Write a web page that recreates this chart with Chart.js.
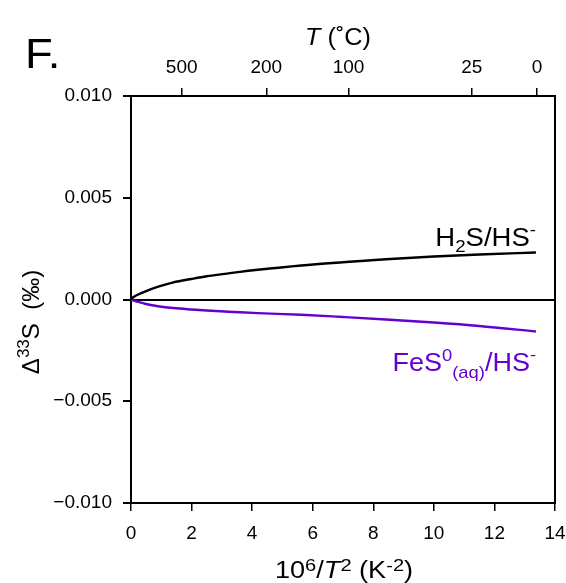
<!DOCTYPE html>
<html>
<head>
<meta charset="utf-8">
<script src="https://cdn.jsdelivr.net/npm/chart.js@4/dist/chart.umd.min.js"></script>
<style>
  html, body { margin: 0; padding: 0; background: #fff; }
  canvas { display: block; }
</style>
</head>
<body>
<canvas id="chart" width="566" height="583"></canvas>
<script>
// 10^6/T^2 (K^-2) sample positions shared by both curves
const xValues = [0, 0.05, 0.1, 0.2, 0.46, 0.9, 1.4, 2.0, 2.5, 3.1, 3.6, 4.19, 5.62, 7.0, 8.42, 10.0, 11.5, 13.37];
// Δ33S (‰) for H2S/HS-
const h2sValues = [0, 0.00008, 0.00014, 0.00022, 0.00039, 0.00063, 0.00084, 0.00101, 0.00114, 0.00126, 0.00136, 0.00146, 0.00167, 0.00183, 0.00198, 0.00211, 0.00221, 0.00231];
// Δ33S (‰) for FeS0(aq)/HS-
const fesValues = [0, -0.00003, -0.00006, -0.0001, -0.00021, -0.00033, -0.00042, -0.00049, -0.00054, -0.00059, -0.00063, -0.00067, -0.00075, -0.00086, -0.00098, -0.00113, -0.0013, -0.00157];

const yTickValues = [-0.010, -0.005, 0, 0.005, 0.010];
const xTickValues = [0, 2, 4, 6, 8, 10, 12, 14];
const tempsC = [500, 200, 100, 25, 0];
const tempLabels = ['500', '200', '100', '25', '0'];

const FAMILY = "'Liberation Sans', Arial, Helvetica, sans-serif";
const PURPLE = '#6600cc';

function fmtY(v) {
  if (Math.abs(v) < 1e-12) return '0.000';
  const s = Math.abs(v).toFixed(3);
  return v < 0 ? '\u2212' + s : s;
}

// Draw a run of text pieces (with sub/superscripts) along one baseline,
// optionally widened horizontally by factor sx.
function richText(ctx, parts, x, y, align, color, sx) {
  sx = sx || 1;
  const fontOf = p => (p.italic ? 'italic ' : '') + p.size + 'px ' + FAMILY;
  let total = 0;
  parts.forEach(p => { ctx.font = fontOf(p); p.w = ctx.measureText(p.t).width; total += p.w; });
  const width = total * sx;
  const x0 = align === 'center' ? x - width / 2 : align === 'right' ? x - width : x;
  ctx.save();
  ctx.translate(x0, y);
  ctx.scale(sx, 1);
  ctx.fillStyle = color;
  ctx.textBaseline = 'alphabetic';
  ctx.textAlign = 'left';
  let cx = 0;
  parts.forEach(p => {
    ctx.font = fontOf(p);
    ctx.fillText(p.t, cx, p.dy || 0);
    cx += p.w;
  });
  ctx.restore();
}

const annotations = {
  id: 'annotations',
  afterDraw(chart) {
    const ctx = chart.ctx;
    const a = chart.chartArea;
    ctx.save();
    // right spine
    ctx.strokeStyle = '#000';
    ctx.lineWidth = 2;
    ctx.beginPath();
    ctx.moveTo(a.right, a.top - 1);
    ctx.lineTo(a.right, a.bottom + 1);
    ctx.stroke();

    // panel letter
    richText(ctx, [{t: 'F.', size: 42}], 25, 68, 'left', '#000', 1.08);

    // top axis title
    richText(ctx, [{t: 'T', size: 23, italic: true}, {t: ' (\u02DAC)', size: 23}], 338, 45, 'center', '#000', 1.1);

    // bottom axis title
    richText(ctx, [
      {t: '10', size: 23}, {t: '6', size: 17, dy: -7}, {t: '/', size: 23},
      {t: 'T', size: 23, italic: true}, {t: '2', size: 17, dy: -7},
      {t: ' (K', size: 23}, {t: '-2', size: 17, dy: -7}, {t: ')', size: 23}
    ], 344, 578, 'center', '#000', 1.18);

    // left axis title (rotated)
    ctx.save();
    ctx.translate(39, 322);
    ctx.rotate(-Math.PI / 2);
    richText(ctx, [
      {t: '\u0394', size: 24}, {t: '33', size: 17, dy: -10}, {t: 'S', size: 24},
      {t: '  (\u2030)', size: 24}
    ], 0, 0, 'center', '#000');
    ctx.restore();

    // curve labels
    richText(ctx, [
      {t: 'H', size: 25}, {t: '2', size: 17, dy: 6}, {t: 'S/HS', size: 25}, {t: '-', size: 17, dy: -11}
    ], 536, 246, 'right', '#000', 1.1);
    richText(ctx, [
      {t: 'FeS', size: 25}, {t: '0', size: 17, dy: -10}, {t: '(aq)', size: 17, dy: 7},
      {t: '/HS', size: 25}, {t: '-', size: 17, dy: -11}
    ], 536, 371, 'right', PURPLE, 1.08);
    ctx.restore();
  }
};

const tickFont = {family: FAMILY, size: 19};

// keep the plot frame fixed: no extra side padding for overhanging tick labels
const noSidePadding = s => { s.paddingLeft = 0; s.paddingRight = 0; };

new Chart(document.getElementById('chart'), {
  type: 'line',
  data: {
    datasets: [
      {
        label: 'H2S/HS-',
        data: xValues.map((x, i) => ({x: x, y: h2sValues[i]})),
        borderColor: '#000',
        borderWidth: 2.4,
        pointRadius: 0,
        cubicInterpolationMode: 'monotone',
        xAxisID: 'x', yAxisID: 'y'
      },
      {
        label: 'FeS0(aq)/HS-',
        data: xValues.map((x, i) => ({x: x, y: fesValues[i]})),
        borderColor: PURPLE,
        borderWidth: 2.4,
        pointRadius: 0,
        cubicInterpolationMode: 'monotone',
        xAxisID: 'x', yAxisID: 'y'
      }
    ]
  },
  options: {
    responsive: false,
    animation: false,
    layout: {padding: {left: 0, right: 11, top: 0, bottom: 0}},
    plugins: {legend: {display: false}, tooltip: {enabled: false}},
    scales: {
      x: {
        type: 'linear', position: 'bottom', min: 0, max: 14,
        afterBuildTicks: s => { s.ticks = xTickValues.map(v => ({value: v})); },
        afterFit: s => { s.height = 80; noSidePadding(s); },
        ticks: {font: tickFont, color: '#000', padding: 11, maxRotation: 0, autoSkip: false,
                callback: v => String(v)},
        grid: {drawOnChartArea: false, tickLength: 8, tickColor: '#000', lineWidth: 1.5},
        border: {display: true, color: '#000', width: 2}
      },
      xTop: {
        type: 'linear', position: 'top', min: 0, max: 14,
        afterBuildTicks: s => { s.ticks = tempsC.map(t => ({value: 1e6 / Math.pow(t + 273.15, 2)})); },
        afterFit: s => { s.height = 96; noSidePadding(s); },
        ticks: {font: tickFont, color: '#000', padding: 9, maxRotation: 0, autoSkip: false,
                callback: (v, i) => tempLabels[i]},
        grid: {drawOnChartArea: false, tickLength: 8, tickColor: '#000', lineWidth: 1.5},
        border: {display: true, color: '#000', width: 2}
      },
      y: {
        type: 'linear', position: 'left', min: -0.010, max: 0.010,
        afterBuildTicks: s => { s.ticks = yTickValues.map(v => ({value: v})); },
        afterFit: s => { s.width = 131; },
        ticks: {font: tickFont, color: '#000', padding: 11, autoSkip: false, callback: v => fmtY(v)},
        grid: {
          drawOnChartArea: true,
          color: c => (c.tick && c.tick.value === 0) ? '#000' : 'rgba(0,0,0,0)',
          tickColor: '#000', tickLength: 8, lineWidth: 2
        },
        border: {display: true, color: '#000', width: 2}
      }
    }
  },
  plugins: [annotations]
});
</script>
</body>
</html>
